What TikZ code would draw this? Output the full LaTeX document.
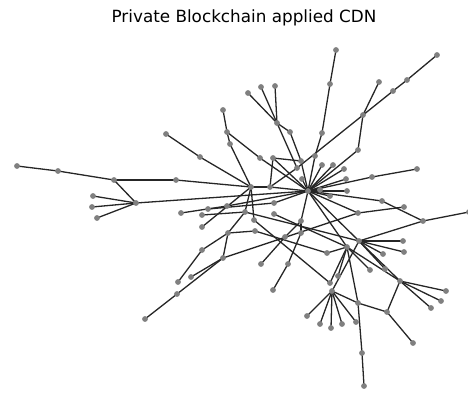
\documentclass[tikz,border=0pt]{standalone}
\usepackage{fontspec}
\setmainfont{DejaVu Sans}
\pgfdeclarelayer{bg}
\pgfsetlayers{bg,main}
\definecolor{vgray}{RGB}{128,128,128}
\tikzset{
  vtx/.style={circle, fill=vgray, draw=none, inner sep=0pt, minimum size=5.8pt},
  edge/.style={draw=black!85, line width=1.3pt},
  ttl/.style={font=\fontsize{16.8}{20}\selectfont, inner sep=0pt}
}
\begin{document}
\begin{tikzpicture}[x=1pt,y=-1pt]
\useasboundingbox (0,0) rectangle (468,392);
\node[ttl] (title) at (244,18) {Private Blockchain applied CDN};
\foreach \n/\x/\y in {a1/17/166, a2/58/171, a3/114/180, a4/176/180, a5/136/203, a6/93/196, a7/92/207, a8/97/218,
b1/166/134, b2/200/157, b3/223/110, b4/227/132, b5/230/144, b6/248/93, b7/261/87, b8/275/86, b9/277/123, b10/290/132, b11/260/158, b12/273/158, b13/301/161, b14/297/168, b15/302/179,
c1/251/187, c2/270/187, H/308/191,
d1/336/50, d2/330/84, d3/322/133, d4/315/156, d5/437/55, d6/407/80, d7/393/91, d8/379/82, d9/363/115, d10/358/150, d11/322/165, d12/333/165, d13/344/169, d14/346/179, d15/347/191, d16/320/190, d17/330/196, d18/372/177, d19/417/169,
e1/382/201, e2/404/207, e3/423/221, e4/469/212, e5/358/213, e6/347/247, e7/359/241, e8/403/241, e9/404/252, e10/383/254, e11/370/270, e12/385/269, e13/338/276, e14/400/281, e15/446/291, e16/441/301, e17/431/308, e18/387/312, e19/413/343, e20/358/303, e21/362/353, e22/364/386,
f0/330/283, f1/332/291, f2/307/316, f3/320/324, f4/331/328, f5/342/324, f6/356/322,
g1/208/209, g2/227/206, g3/181/213, g4/202/215, g5/245/212, g6/254/220, g7/274/203, g8/274/214, g9/202/227, g10/228/233, g11/255/231, g12/202/250, g13/223/258, g14/178/282, g15/191/277, g16/177/294, g17/145/319, g18/261/264, g19/273/290, g20/288/264, g21/301/221, g22/301/233, g23/285/237, h1/327/253}
  \node[vtx] (\n) at (\x,\y) {};
\begin{pgfonlayer}{bg}
\foreach \a/\b in {a1/a2, a2/a3, a3/a4, a3/a5, a5/a6, a5/a7, a5/a8, a5/H, a4/c1, c1/c2, c2/H,
b1/b2, b2/c1, b3/b4, b4/b5, b5/c1, b4/b11, b11/H, b6/b9, b7/b9, b8/b9, b9/b10, b9/b14, b10/b13, b12/b13, b12/c2, b12/H, b13/H, b14/c2, b15/H,
d1/d2, d2/d3, d3/d4, d4/H, d5/d6, d6/d7, d7/b14, d8/d9, d9/d10, d10/H, d11/H, d12/H, d13/H, d14/H, d15/H, d16/H, d17/H, d18/H, d18/d19,
H/e1, e1/e3, e3/e4, e3/e7, H/e5, e5/e2, H/e6, H/e7,
e7/e8, e7/e9, e7/e10, e6/e11, e7/e12, e6/e14, e7/e14, e6/e13, e6/e20, e6/f0, e7/f1,
e14/e15, e14/e16, e14/e17, e14/e18, e18/e19, f1/e20, e20/e18, e20/e21, e21/e22,
f1/f2, f1/f3, f1/f4, f1/f5, f1/f6,
g3/g2, g2/H, g1/g7, g7/H, g4/g5, g5/c1, g6/c1, g9/c1, g10/g5, g10/g11, g12/g10, g14/g12, g13/g10, g15/g13, g16/g13, g17/g16, g13/e5, g6/f0, g11/h1, h1/e6, g8/e6, g5/e7, H/g21, g21/g22, g22/g20, g20/g19, g18/g23, g23/g21}
  \draw[edge] (\a.center) -- (\b.center);
\end{pgfonlayer}
\end{tikzpicture}
\end{document}
